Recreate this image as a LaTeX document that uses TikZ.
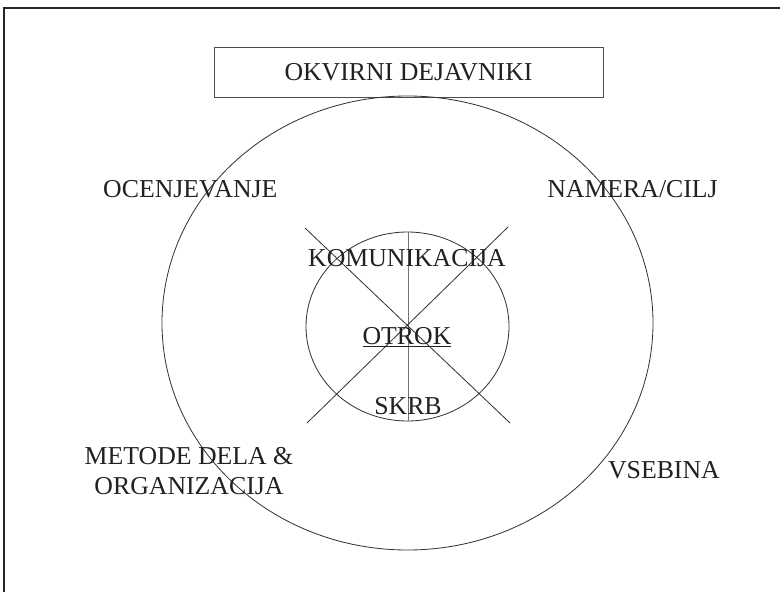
\documentclass[tikz,border=0pt]{standalone}
\usepackage{fontspec}
\setmainfont{Liberation Serif}
\begin{document}
\begin{tikzpicture}[x=0.03cm,y=-0.03cm,
    lbl/.style={inner sep=0pt,text=black!87,font=\fontsize{22}{25}\selectfont},
    rim/.style={draw=black!80,line width=0.7pt}]
  \clip (0,0) rectangle (780,592);
  \fill[white] (0,0) rectangle (780,592);
  \draw[black!85,line width=0.9pt] (4,8) rectangle (800,620);
  % title box
  \node[lbl,draw=black!70,line width=0.7pt,minimum width=389*0.03cm,
        minimum height=50*0.03cm] (title) at (408.5,72) {OKVIRNI DEJAVNIKI};
  % the two rings
  \draw[rim] (407.5,323) ellipse (245.5 and 227);
  \draw[rim] (407.5,326.5) ellipse (101.5 and 94.5);
  \coordinate (top) at (408,232);
  \coordinate (bot) at (408,421);
  \draw[black!55,line width=0.8pt] (top) -- (bot);
  \draw[rim] (305,228) -- (510,423);
  \draw[rim] (508,227) -- (307,423);
  % inner labels
  \node[lbl] (komunikacija) at (407,258) {KOMUNIKACIJA};
  \node[lbl] (otrok) at (407,337) {\underline{OTROK}};
  \node[lbl] (skrb) at (408,406) {SKRB};
  % outer labels
  \node[lbl,anchor=west] (ocenjevanje) at (103,189) {OCENJEVANJE};
  \node[lbl,anchor=east] (namera) at (718,189) {NAMERA/CILJ};
  \node[lbl,anchor=east] (vsebina) at (720,470) {VSEBINA};
  \node[lbl,align=center] (metode) at (189,471)
    {METODE DELA \&\\ORGANIZACIJA};
\end{tikzpicture}
\end{document}
